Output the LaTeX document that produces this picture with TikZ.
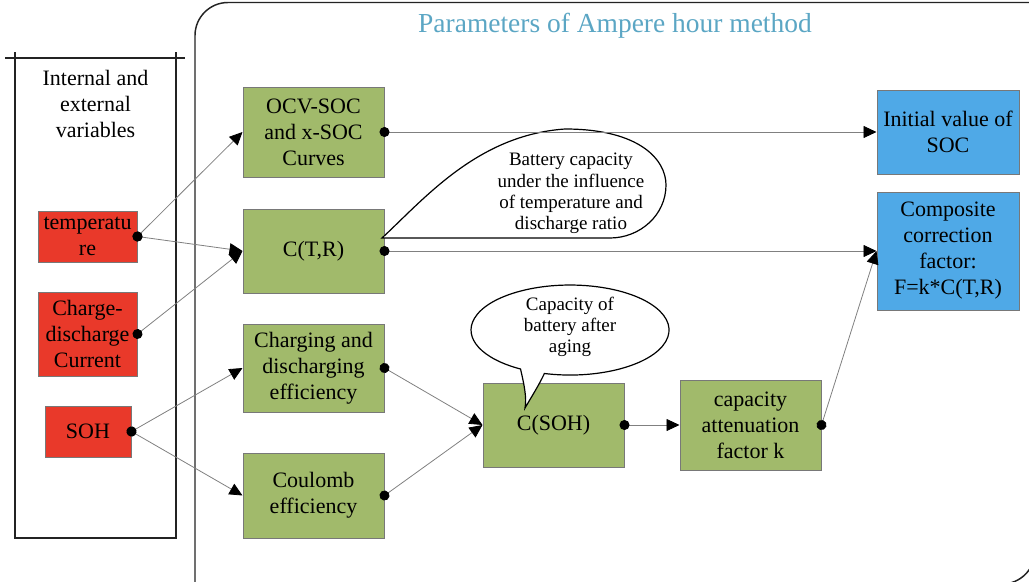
\documentclass[tikz,border=0pt]{standalone}
\usepackage{fontspec}
\setmainfont{Liberation Serif}
\usetikzlibrary{arrows.meta}

\definecolor{varred}{RGB}{233,57,42}
\definecolor{procgreen}{RGB}{161,186,107}
\definecolor{outblue}{RGB}{79,169,231}
\definecolor{boxedge}{RGB}{120,120,120}
\definecolor{linkgray}{RGB}{128,128,128}
\definecolor{paneledge}{RGB}{35,35,35}
\definecolor{titleblue}{RGB}{91,166,196}

\newcommand\boxfont{\fontsize{16.5}{19.5}\selectfont}
\newcommand\notefont{\fontsize{14.25}{16}\selectfont}
\newcommand\headfont{\fontsize{20.6}{24}\selectfont}

\begin{document}
\begin{tikzpicture}[x=0.75pt,y=-0.75pt,
  every node/.style={inner sep=0pt, align=center},
  vbox/.style={draw=boxedge, line width=0.75pt, font=\boxfont},
  varbox/.style={vbox, fill=varred},
  procbox/.style={vbox, fill=procgreen, minimum width=105.75pt},
  outbox/.style={vbox, fill=outblue, minimum width=106.5pt},
  panel/.style={draw=paneledge, line width=1.1pt},
  note/.style={draw=black, line width=0.9pt, fill=white},
  link/.style={draw=linkgray, line width=0.6pt,
    {Circle[length=7.5pt,color=black]}-{Triangle[length=9.75pt,width=9pt,color=black]},
    shorten <=-3.75pt}
]
\useasboundingbox (0,0) rectangle (1029,582);

% outer frames
\begin{scope}
  \clip (0,0) rectangle (1029,582);
  \draw[panel, rounded corners=24.75pt] (195,650) -- (195,2.5) -- (1100,2.5);
  \draw[panel, rounded corners=24.75pt] (1035,480) -- (1035,584) -- (930,584);
\end{scope}
\draw[panel] (5,58) -- (185,58);
\draw[panel] (15,52) -- (15,538) -- (176,538) -- (176,52);

\node[font=\boxfont] (vartitle) at (95.5,104) {Internal and\\external\\variables};
\node[font=\headfont, text=titleblue] (title) at (615,25.5) {Parameters of Ampere hour method};

% input variables
\node[varbox, minimum width=74.25pt, minimum height=38.25pt] (temp) at (87.5,236.5) {temperatu\\re};
\node[varbox, minimum width=74.25pt, minimum height=63pt] (curr) at (87.5,334) {Charge-\\discharge\\Current};
\node[varbox, minimum width=64.5pt, minimum height=38.25pt] (soh) at (88,431.5) {SOH};

% intermediate quantities
\node[procbox, minimum height=67.5pt] (ocv) at (313.5,132) {OCV-SOC\\and x-SOC\\Curves};
\node[procbox, minimum height=63pt] (ctr) at (313.5,251) {C(T,R)};
\node[procbox, minimum height=66pt] (eff) at (313.5,368) {Charging and\\discharging\\efficiency};
\node[procbox, minimum height=63.75pt] (coul) at (313.5,495.5) {Coulomb\\efficiency};
\node[procbox, minimum height=63pt] (csoh) at (553.5,425) {C(SOH)};
\node[procbox, minimum height=67.5pt] (katt) at (750.5,425) {capacity\\attenuation\\factor k};

% outputs
\node[outbox, minimum height=63pt] (init) at (948,132) {Initial value of\\SOC};
\node[outbox, minimum height=88.5pt] (comp) at (948,251) {Composite\\correction\\factor:\\F=k*C(T,R)};

% callout balloons
\draw[note] (382,238) .. controls (425,198) and (478,135) .. (565,129)
  .. controls (640,129) and (666,160) .. (666,185)
  .. controls (666,215) and (640,238) .. (610,238) -- cycle;
\node[font=\notefont] (capnote) at (571,193.5) {Battery capacity\\under the influence\\of temperature and\\discharge ratio};

\draw[note] (525,408) .. controls (532,396) and (539,385) .. (544.4,373.5)
  arc[start angle=105, end angle=-240, x radius=99, y radius=45]
  .. controls (524,384) and (527,398) .. (525,408) -- cycle;
\node[font=\notefont] (agenote) at (570,327) {Capacity of\\battery after\\aging};

% connectors
\draw[link] (temp.east) -- (ocv.west);
\draw[link] (temp.east) -- (ctr.west);
\draw[link] (curr.east) -- (ctr.west);
\draw[link] (soh.east) -- (eff.west);
\draw[link] (soh.east) -- (coul.west);
\draw[link] (ocv.east) -- (init.west);
\draw[link] (ctr.east) -- (comp.west);
\draw[link] (eff.east) -- (csoh.west);
\draw[link] (coul.east) -- (csoh.west);
\draw[link] (csoh.east) -- (katt.west);
\draw[link] (katt.east) -- (comp.west);
\end{tikzpicture}
\end{document}
